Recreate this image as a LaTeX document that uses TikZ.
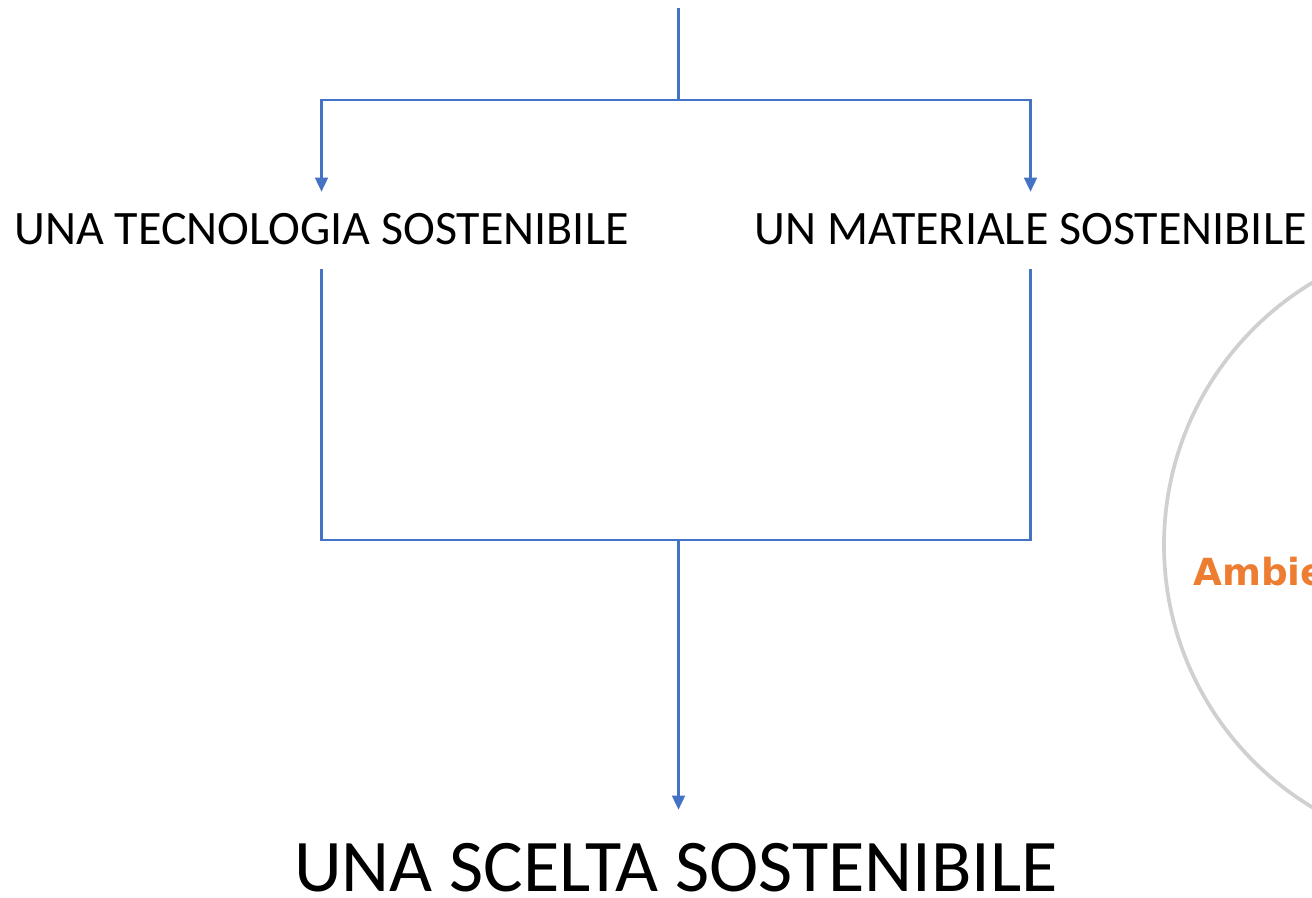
\documentclass[tikz,border=0pt]{standalone}
\usepackage{fontspec}
\setmainfont{Carlito}
\newfontfamily\ambfont{DejaVu Sans}
\usetikzlibrary{arrows.meta}
\definecolor{flowblue}{HTML}{4472C4}
\definecolor{ringgray}{HTML}{D0D0D0}
\definecolor{ambiorange}{HTML}{ED7D31}

\begin{document}
\begin{tikzpicture}[x=0.75pt, y=-0.75pt,
		flowline/.style={line width=1.8pt, color=flowblue},
		flowarrow/.style={flowline, -{Triangle[width=9.5pt, length=10.5pt]}},
		sidetext/.style={anchor=base, inner xsep=0pt, inner ysep=18pt, text height=21.75pt, text depth=0pt, font=\fontsize{36}{42}\selectfont},
		maintext/.style={anchor=base, inner xsep=0pt, inner ysep=2pt, text height=58.75pt, text depth=0pt, font=\fontsize{55.7}{64}\selectfont}]
			%%%%% START %%%%%
			
			\clip (0, 0) rectangle (1312, 898);
			
			\draw[ringgray, line width=2.8pt] (1470, 545) circle [radius=306];
			\node[anchor=base west, inner sep=0pt, text=ambiorange, font=\ambfont\bfseries\fontsize{28}{33}\selectfont] (ambiente) at (1193, 585) {Ambiente};
			
			\coordinate (top) at (678.5, 8);
			\coordinate (split) at (678.5, 100);
			\coordinate (join) at (678.5, 540);
			
			\node[sidetext] (tecnologia) at (321.5, 245) {UNA TECNOLOGIA SOSTENIBILE};
			\node[sidetext] (materiale) at (1030.5, 245) {UN MATERIALE SOSTENIBILE};
			\node[maintext] (scelta) at (676, 891) {UNA SCELTA SOSTENIBILE};
			
			\draw[flowline] (top) -- (split);
			\draw[flowarrow] (split) -| (tecnologia.north);
			\draw[flowarrow] (split) -| (materiale.north);
			
			\draw[flowline] (tecnologia.south) |- (join) -| (materiale.south);
			\draw[flowarrow] (join) -- (scelta.north -| join);
			
			%%%%% END %%%%%
\end{tikzpicture}
\end{document}
